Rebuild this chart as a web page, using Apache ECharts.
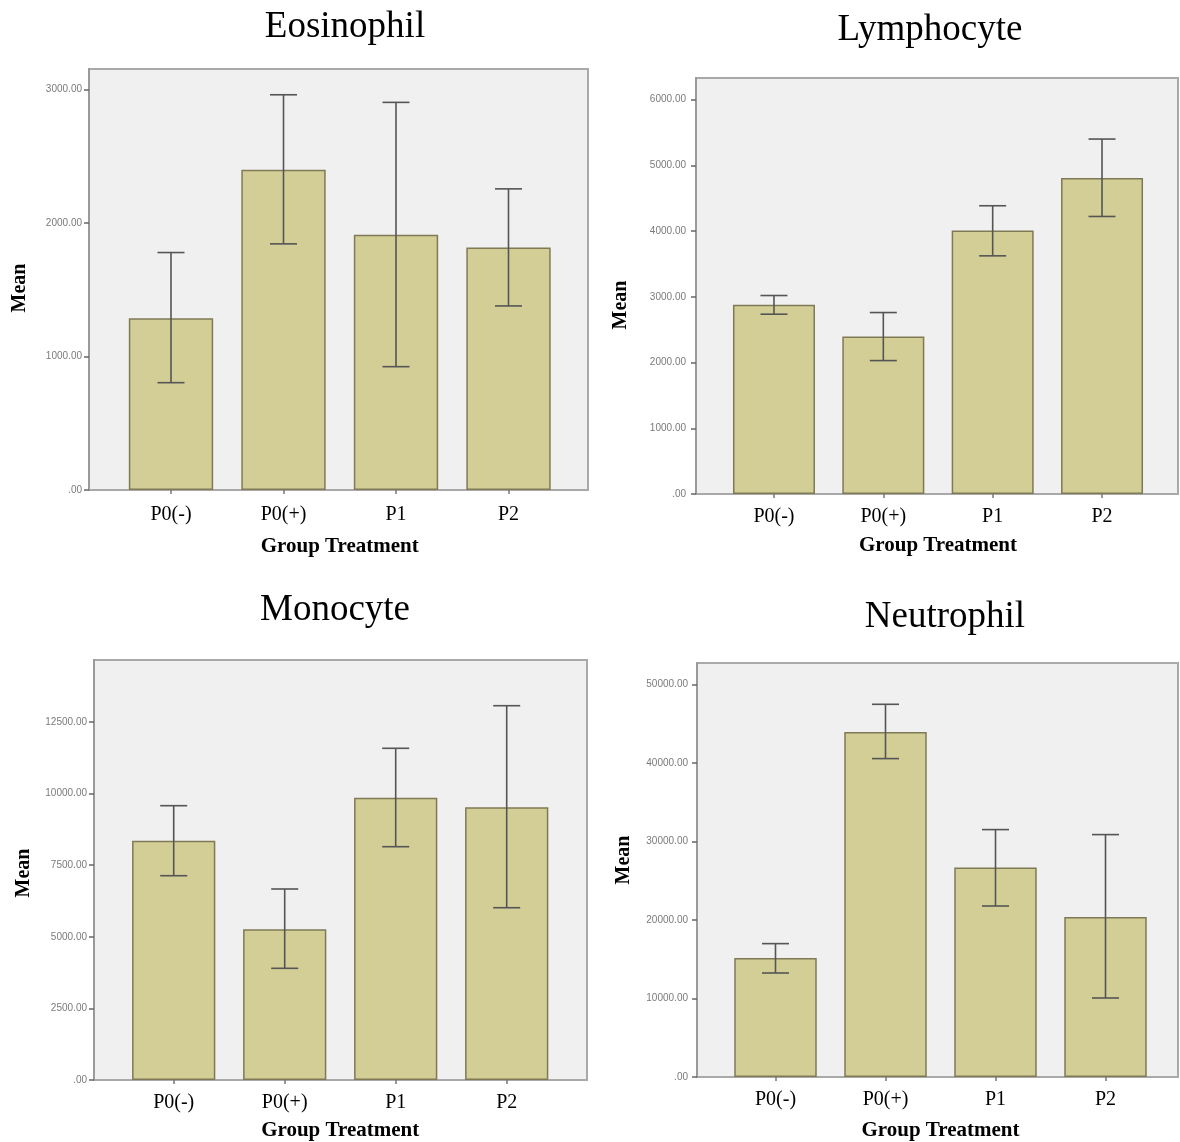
<!DOCTYPE html>
<html>
<head>
<meta charset="utf-8">
<script src="https://cdn.jsdelivr.net/npm/echarts@6/dist/echarts.min.js"></script>
<style>
html,body{margin:0;padding:0;background:#fff;}
#chart{width:1180px;height:1142px;}
</style>
</head>
<body>
<div id="chart"></div>
<script>
// ---------- data ----------
const categories = ['P0(-)', 'P0(+)', 'P1', 'P2'];

const eosMean = [1287, 2399, 1912, 1817];
const eosLow  = [804, 1844, 924, 1379];
const eosHigh = [1779, 2961, 2904, 2256];
const eosTicks = [0, 1000, 2000, 3000];
const eosTickLabels = ['.00', '1000.00', '2000.00', '3000.00'];

const lymMean = [2878, 2396, 4010, 4807];
const lymLow  = [2736, 2030, 3624, 4223];
const lymHigh = [3020, 2761, 4386, 5401];
const lymTicks = [0, 1000, 2000, 3000, 4000, 5000, 6000];
const lymTickLabels = ['.00', '1000.00', '2000.00', '3000.00', '4000.00', '5000.00', '6000.00'];

const monMean = [8356, 5262, 9857, 9522];
const monLow  = [7133, 3900, 8146, 6016];
const monHigh = [9578, 6669, 11582, 13069];
const monTicks = [0, 2500, 5000, 7500, 10000, 12500];
const monTickLabels = ['.00', '2500.00', '5000.00', '7500.00', '10000.00', '12500.00'];

const neuMean = [15159, 43949, 26675, 20382];
const neuLow  = [13248, 40561, 21783, 10064];
const neuHigh = [16990, 47478, 31516, 30879];
const neuTicks = [0, 10000, 20000, 30000, 40000, 50000];
const neuTickLabels = ['.00', '10000.00', '20000.00', '30000.00', '40000.00', '50000.00'];

const titles = ['Eosinophil', 'Lymphocyte', 'Monocyte', 'Neutrophil'];
const xAxisTitle = 'Group Treatment';
const yAxisTitle = 'Mean';

// ---------- layout ----------
const panels = [
  {title: titles[0], mean: eosMean, low: eosLow, high: eosHigh, ticks: eosTicks, tickLabels: eosTickLabels,
   box: {l: 89, t: 69, r: 588, b: 490}, band: {l: 114.75, r: 564.75}, max: 3154, interval: 1000,
   titlePos: [345, 27], meanPos: [20, 288], labelMargin: 15, nameGap: 46, yMargin: 7},
  {title: titles[1], mean: lymMean, low: lymLow, high: lymHigh, ticks: lymTicks, tickLabels: lymTickLabels,
   box: {l: 696, t: 78, r: 1178, b: 494}, band: {l: 719.3, r: 1156.7}, max: 6330, interval: 1000,
   titlePos: [930, 30], meanPos: [621, 305], labelMargin: 13, nameGap: 41, yMargin: 10},
  {title: titles[2], mean: monMean, low: monLow, high: monHigh, ticks: monTicks, tickLabels: monTickLabels,
   box: {l: 94, t: 660, r: 587, b: 1080}, band: {l: 118.2, r: 562.2}, max: 14665, interval: 2500,
   titlePos: [335, 610], meanPos: [24, 873], labelMargin: 13, nameGap: 40, yMargin: 7},
  {title: titles[3], mean: neuMean, low: neuLow, high: neuHigh, ticks: neuTicks, tickLabels: neuTickLabels,
   box: {l: 697, t: 663, r: 1178, b: 1077}, band: {l: 720.5, r: 1160.5}, max: 52739, interval: 10000,
   titlePos: [945, 617], meanPos: [624, 860], labelMargin: 13, nameGap: 43, yMargin: 9}
];

const serif = '"Liberation Serif", "Times New Roman", serif';
const grids = [], xAxes = [], yAxes = [], series = [], graphics = [];

panels.forEach((p, i) => {
  const outer = i * 2, inner = i * 2 + 1;
  const h = p.box.b - p.box.t;
  grids.push({
    left: p.box.l, top: p.box.t, width: p.box.r - p.box.l, height: h,
    show: true, backgroundColor: '#f0f0f0', borderColor: '#a9a9a9', borderWidth: 2
  });
  grids.push({
    left: p.band.l, top: p.box.t, width: p.band.r - p.band.l, height: h, show: false
  });
  xAxes.push({gridIndex: outer, type: 'value', show: false, min: 0, max: 1});
  xAxes.push({
    gridIndex: inner, type: 'category', data: categories,
    axisLine: {show: false},
    axisTick: {show: true, alignWithLabel: true, length: 4, lineStyle: {color: '#777', width: 1.5}},
    axisLabel: {margin: p.labelMargin, fontFamily: serif, fontSize: 20, color: '#000'},
    name: xAxisTitle, nameLocation: 'middle', nameGap: p.nameGap,
    nameTextStyle: {fontFamily: serif, fontSize: 21, fontWeight: 'bold', color: '#000',
                    verticalAlign: 'top'}
  });
  const tickLabels = p.tickLabels, ticks = p.ticks;
  yAxes.push({
    gridIndex: outer, type: 'value', min: 0, max: p.max, interval: p.interval,
    axisLine: {show: true, lineStyle: {color: '#9a9a9a', width: 2}},
    axisTick: {show: true, length: 5, lineStyle: {color: '#666', width: 1.5}},
    splitLine: {show: false},
    axisLabel: {
      margin: p.yMargin, fontSize: 10, color: '#7a7a7a', fontFamily: 'Arial, "Liberation Sans", sans-serif',
      showMaxLabel: false,
      formatter: v => { const k = ticks.indexOf(v); return k >= 0 ? tickLabels[k] : ''; }
    }
  });
  yAxes.push({gridIndex: inner, type: 'value', min: 0, max: p.max, show: false});

  series.push({
    type: 'bar', xAxisIndex: inner, yAxisIndex: inner, data: p.mean,
    barCategoryGap: '25%',
    itemStyle: {color: '#d3ce96', borderColor: '#7f7a55', borderWidth: 1.5},
    emphasis: {disabled: true}, silent: true, z: 2
  });
  series.push({
    type: 'custom', xAxisIndex: inner, yAxisIndex: inner, z: 5, silent: true,
    data: p.low.map((lo, k) => [k, lo, p.high[k]]),
    encode: {x: 0, y: [1, 2]},
    renderItem: (params, api) => {
      const x = api.value(0);
      const lo = api.coord([x, api.value(1)]);
      const hi = api.coord([x, api.value(2)]);
      const cap = 13.5;
      const st = {stroke: '#555', lineWidth: 1.6};
      return {
        type: 'group',
        children: [
          {type: 'line', shape: {x1: lo[0], y1: lo[1], x2: hi[0], y2: hi[1]}, style: st},
          {type: 'line', shape: {x1: hi[0] - cap, y1: hi[1], x2: hi[0] + cap, y2: hi[1]}, style: st},
          {type: 'line', shape: {x1: lo[0] - cap, y1: lo[1], x2: lo[0] + cap, y2: lo[1]}, style: st}
        ]
      };
    }
  });

  graphics.push({
    type: 'text', x: p.titlePos[0], y: p.titlePos[1],
    style: {text: p.title, font: '37px ' + serif, fill: '#000', textAlign: 'center', textVerticalAlign: 'middle'}
  });
  graphics.push({
    type: 'text', x: p.meanPos[0], y: p.meanPos[1], rotation: Math.PI / 2,
    style: {text: yAxisTitle, font: 'bold 20px ' + serif, fill: '#000', textAlign: 'center', textVerticalAlign: 'middle'}
  });
});

const chart = echarts.init(document.getElementById('chart'), null, {renderer: 'canvas'});
chart.setOption({
  animation: false,
  backgroundColor: '#fff',
  grid: grids, xAxis: xAxes, yAxis: yAxes, series: series, graphic: graphics
});
</script>
</body>
</html>
